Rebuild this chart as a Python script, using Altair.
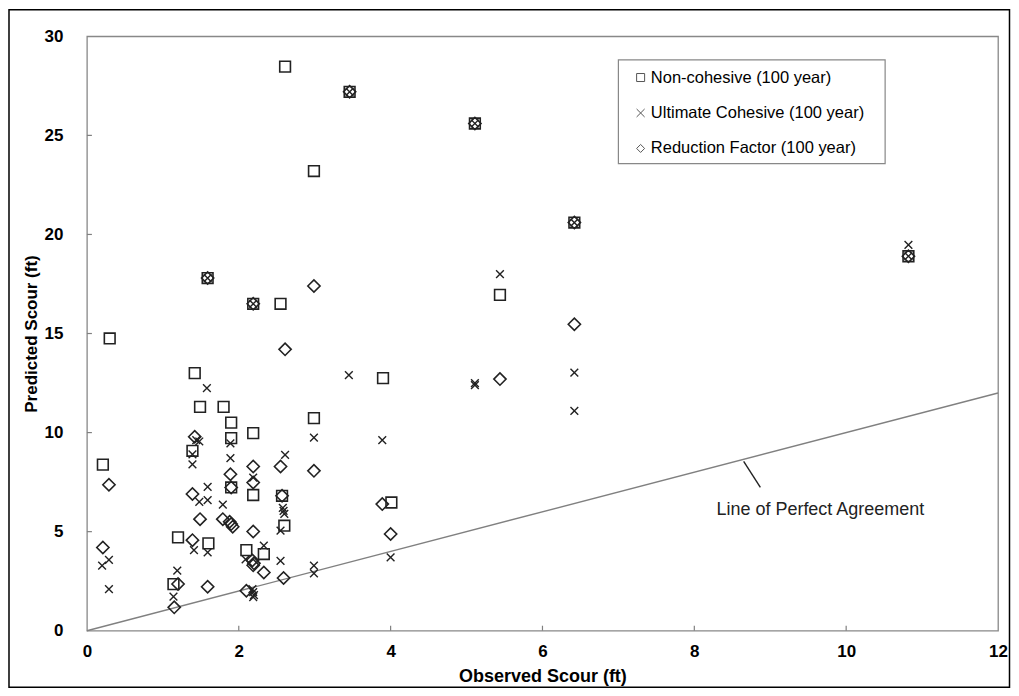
import altair as alt
import pandas as pd

# ---------------- data ----------------
series_names = ["Non-cohesive (100 year)", "Ultimate Cohesive (100 year)", "Reduction Factor (100 year)"]

nc_x = [0.30, 0.21, 1.20, 1.14, 1.42, 1.39, 1.49, 1.60, 1.59, 1.80, 1.90, 1.90, 1.90,
        2.19, 2.19, 2.10, 2.19, 2.33, 2.61, 2.55, 2.57, 2.60, 2.99, 2.99, 3.46, 3.90,
        4.01, 5.11, 5.44, 6.42, 10.82]
nc_y = [14.75, 8.38, 4.71, 2.35, 13.0, 9.08, 11.3, 4.41, 17.8, 11.3, 10.5, 9.72, 7.23,
        9.97, 6.85, 4.07, 16.5, 3.87, 28.47, 16.5, 6.81, 5.3, 23.2, 10.73, 27.2, 12.75,
        6.47, 25.6, 16.95, 20.6, 18.9]

uc_x = [0.20, 0.29, 0.29, 1.19, 1.14, 1.44, 1.48, 1.39, 1.39, 1.41, 1.48,
        1.58, 1.59, 1.59, 1.59, 1.59, 1.79, 1.89, 1.89,
        2.19, 2.09, 2.18, 2.19, 2.20, 2.19, 2.19, 2.33,
        2.61, 2.58, 2.59, 2.60, 2.55, 2.55, 2.99, 2.99, 2.99,
        3.46, 3.45, 3.89, 4.00, 5.11, 5.11, 5.11, 5.44, 6.42, 6.42, 6.42, 10.82, 10.82]
uc_y = [3.28, 3.57, 2.10, 3.03, 1.72, 9.62, 9.55, 8.90, 8.40, 4.07, 6.50,
        12.24, 7.26, 6.59, 3.95, 17.8, 6.36, 9.45, 8.71,
        7.73, 3.60, 2.10, 1.95, 1.80, 1.70, 16.5, 4.29,
        8.88, 6.20, 6.05, 5.90, 5.05, 3.53, 9.75, 3.28, 2.89,
        27.2, 12.9, 9.62, 3.70, 25.6, 12.5, 12.4, 18.0, 20.6, 13.03, 11.1, 19.47, 18.9]

rf_x = [0.29, 0.21, 1.20, 1.15, 1.42, 1.39, 1.39, 1.49, 1.59, 1.59, 1.79,
        1.89, 1.90, 1.88, 1.90, 1.92,
        2.19, 2.19, 2.19, 2.18, 2.20, 2.19, 2.10, 2.19, 2.33,
        2.61, 2.55, 2.57, 2.59, 2.99, 2.99, 3.46, 3.89, 4.00,
        5.11, 5.44, 6.42, 6.42, 10.82]
rf_y = [7.37, 4.20, 2.36, 1.18, 9.79, 6.90, 4.57, 5.63, 2.22, 17.8, 5.63,
        7.90, 7.23, 5.50, 5.38, 5.25,
        8.29, 7.48, 5.01, 3.55, 3.40, 3.30, 2.02, 16.5, 2.94,
        14.2, 8.29, 6.81, 2.66, 17.4, 8.07, 27.2, 6.39, 4.88,
        25.6, 12.7, 20.6, 15.47, 18.9]

line_x = [0, 12]
line_y = [0, 12]

label_text = ["Line of Perfect Agreement"]
label_x = [9.66]
label_y = [6.1]
leader_x = [8.65]
leader_y = [8.55]
leader_x2 = [8.87]
leader_y2 = [7.23]

x_ticks = [2, 4, 6, 8, 10]
y_ticks = [5, 10, 15, 20, 25]

# ---------------- chart ----------------
FONT = "Liberation Sans"
W, H = 912, 595
INK = "#222222"

X = alt.X("x:Q", scale=alt.Scale(domain=[0, 12], nice=False),
          axis=alt.Axis(title="Observed Scour (ft)", values=[0, 2, 4, 6, 8, 10, 12]))
Y = alt.Y("y:Q", scale=alt.Scale(domain=[0, 30], nice=False),
          axis=alt.Axis(title="Predicted Scour (ft)", values=[0, 5, 10, 15, 20, 25, 30]))

shape_scale = alt.Scale(domain=series_names,
                        range=["square", "M-1,-1L1,1M-1,1L1,-1", "diamond"])
legend = alt.Legend(title=None, orient="none", legendX=546, legendY=33)

def series_layer(xs, ys, name, size, sw):
    df = pd.DataFrame({"x": xs, "y": ys, "series": name})
    return alt.Chart(df).mark_point(filled=False, size=size, strokeWidth=sw,
                                    color=INK, opacity=1).encode(
        x=X, y=Y,
        shape=alt.Shape("series:N", scale=shape_scale, legend=legend))

nc = series_layer(nc_x, nc_y, series_names[0], 115, 1.6)
uc = series_layer(uc_x, uc_y, series_names[1], 60, 1.4)
rf = series_layer(rf_x, rf_y, series_names[2], 150, 1.6)

line = alt.Chart(pd.DataFrame({"x": line_x, "y": line_y})).mark_line(
    color="#808080", strokeWidth=1.4).encode(x=X, y=Y)

leader = alt.Chart(pd.DataFrame({"x": leader_x, "y": leader_y,
                                 "x2": leader_x2, "y2": leader_y2})).mark_rule(
    color=INK, strokeWidth=1.4).encode(x=X, y=Y, x2="x2:Q", y2="y2:Q")

label = alt.Chart(pd.DataFrame({"x": label_x, "y": label_y, "t": label_text})).mark_text(
    font=FONT, fontSize=18, color=INK, align="center", baseline="middle").encode(
    x=X, y=Y, text="t:N")

xt = alt.Chart(pd.DataFrame({"x": x_ticks})).mark_rule(color="#808080", strokeWidth=1.2).encode(
    x=X, y=alt.value(H), y2=alt.value(H - 5))
yt = alt.Chart(pd.DataFrame({"y": y_ticks})).mark_rule(color="#808080", strokeWidth=1.2).encode(
    y=Y, x=alt.value(0), x2=alt.value(5))

# legend box
legend_box = alt.Chart(pd.DataFrame({"k": [0]})).mark_rect(
    fill="white", stroke="#888888", strokeWidth=1.2).encode(
    x=alt.value(532), x2=alt.value(799), y=alt.value(23.5), y2=alt.value(127.5))

# outer figure border
border = alt.Chart(pd.DataFrame({"k": [0]})).mark_rect(
    fill="transparent", stroke="black", strokeWidth=1.5).encode(
    x=alt.value(-78), x2=alt.value(923.5), y=alt.value(-26.5), y2=alt.value(651.5))

chart = alt.layer(border, line, leader, label, xt, yt, legend_box, nc, uc, rf).properties(
    width=W, height=H, padding=0, background="white"
).configure_view(
    stroke="#888888", strokeWidth=1.3
).configure_axis(
    grid=False, domain=False, ticks=False, tickSize=0, labelFlush=False,
    labelFont=FONT, labelFontSize=17, labelFontWeight="bold", labelColor="black",
    titleFont=FONT, titleFontWeight="bold", titleColor="black"
).configure_axisX(
    labelPadding=13, titleFontSize=18, titlePadding=8
).configure_axisY(
    labelPadding=24, titleFontSize=17, titlePadding=4
).configure_legend(
    labelFont=FONT, labelFontSize=16.5, labelColor="black", labelLimit=0,
    symbolSize=64, symbolStrokeWidth=1, symbolStrokeColor="#555555",
    symbolFillColor="transparent", rowPadding=18.5, labelOffset=2, padding=0
)

chart.save("out.html", embed_options={"renderer": "svg", "actions": False})
